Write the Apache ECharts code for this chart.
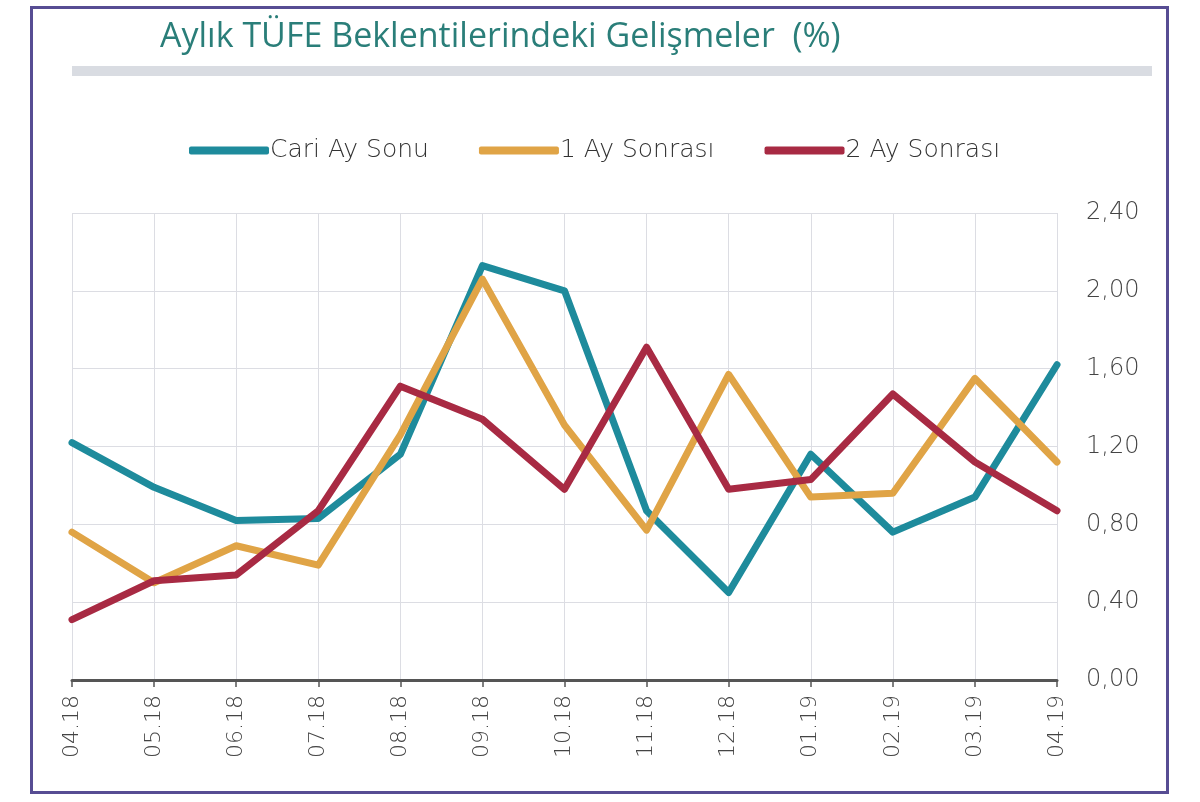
<!DOCTYPE html>
<html>
<head>
<meta charset="utf-8">
<style>
html,body{margin:0;padding:0;background:#fff;}
#c{width:1200px;height:802px;}
</style>
<script src="https://cdn.jsdelivr.net/npm/echarts@6/dist/echarts.min.js"></script>
</head>
<body>
<div id="c"></div>
<script>
const categories = ['04.18','05.18','06.18','07.18','08.18','09.18','10.18','11.18','12.18','01.19','02.19','03.19','04.19'];
const cariAySonu = [1.22,0.99,0.82,0.83,1.16,2.13,2.00,0.87,0.45,1.16,0.76,0.94,1.62];
const birAySonrasi = [0.76,0.50,0.69,0.59,1.26,2.06,1.31,0.77,1.57,0.94,0.96,1.55,1.12];
const ikiAySonrasi = [0.31,0.51,0.54,0.87,1.51,1.34,0.98,1.71,0.98,1.03,1.47,1.12,0.87];
const yTicks = {min:0, max:2.4, interval:0.4};
const seriesNames = ['Cari Ay Sonu','1 Ay Sonrası','2 Ay Sonrası'];
const colors = ['#1e8b9c','#e0a446','#a82a43'];

const chart = echarts.init(document.getElementById('c'), null, {renderer:'canvas'});
const mkSeries = (name, data, color) => ({
  name, type:'line', data, symbol:'none', smooth:false,
  lineStyle:{width:7, color, cap:'round', join:'round'},
  itemStyle:{color}
});
chart.setOption({
  animation:false,
  backgroundColor:'#fff',
  color:colors,
  graphic:[
    {type:'rect', shape:{x:31.5,y:7.5,width:1136,height:785}, style:{fill:'none', stroke:'#574d93', lineWidth:3}},
    {type:'rect', shape:{x:72,y:66,width:1080,height:10}, style:{fill:'#d9dce2'}},
    {type:'text', left:160, top:20, style:{text:'Aylık TÜFE Beklentilerindeki Gelişmeler  (%)', fill:'#2a7e79', font:'34px "Open Sans", Lato, sans-serif'}}
  ],
  legend:{
    top:133, left:184, itemGap:50, itemWidth:80, itemHeight:8,
    icon:'roundRect',
    textStyle:{fontSize:25, color:'#333', fontWeight:200, fontFamily:'"DejaVu Sans", sans-serif', padding:[0,0,0,-4]},
    data:seriesNames
  },
  grid:{left:72, right:143, top:213, bottom:122},
  xAxis:{
    type:'category', data:categories, boundaryGap:false,
    axisLine:{lineStyle:{color:'#555', width:3}},
    axisTick:{show:true, length:7, lineStyle:{color:'#555', width:1.5}},
    axisLabel:{rotate:90, fontSize:22, color:'#444', fontWeight:200, fontFamily:'"DejaVu Sans", sans-serif', margin:15},
    splitLine:{show:true, lineStyle:{color:'#dcdde3', width:1}}
  },
  yAxis:{
    type:'value', position:'right', min:yTicks.min, max:yTicks.max, interval:yTicks.interval,
    axisLine:{show:false}, axisTick:{show:false},
    axisLabel:{fontSize:24, color:'#444', margin:29, fontWeight:200, fontFamily:'"DejaVu Sans", sans-serif',
      formatter:v=>v.toFixed(2).replace('.',',')},
    splitLine:{show:true, lineStyle:{color:'#dcdde3', width:1}}
  },
  series:[
    mkSeries(seriesNames[0], cariAySonu, colors[0]),
    mkSeries(seriesNames[1], birAySonrasi, colors[1]),
    mkSeries(seriesNames[2], ikiAySonrasi, colors[2])
  ]
});
</script>
</body>
</html>
